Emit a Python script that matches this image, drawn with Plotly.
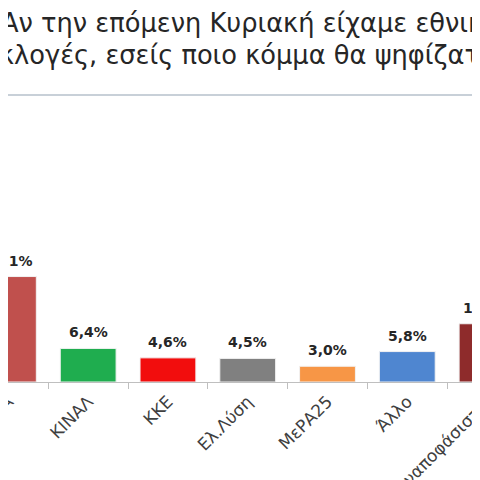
import plotly.graph_objects as go

# poll results (cropped view of the original chart)
parties = ["ΣΥΡΙΖΑ", "ΚΙΝΑΛ", "ΚΚΕ", "Ελ.Λύση", "ΜεΡΑ25", "Άλλο", "Αναποφάσιστοι"]
shares = [20.1, 6.4, 4.6, 4.5, 3.0, 5.8, 11.1]
colors = ["#c0504d", "#1fad4f", "#f20d0d", "#808080", "#f79646", "#4f86d0", "#8e2b2b"]

title_lines = ["Αν την επόμενη Κυριακή είχαμε εθνικές",
               "εκλογές, εσείς ποιο κόμμα θα ψηφίζατε;"]

FONT = "DejaVu Sans"

fig = go.Figure()
fig.add_trace(go.Bar(
    x=parties,
    y=shares,
    marker=dict(color=colors, line=dict(color="#f2f2f2", width=1)),
    width=0.7,
    cliponaxis=False,
    hoverinfo="skip",
))

# value labels above each bar
for p, v in zip(parties, shares):
    fig.add_annotation(
        x=p, y=v, text=f"{v:.1f}%".replace(".", ","),
        showarrow=False, yanchor="bottom", yshift=6,
        font=dict(family=FONT, size=14, color="#262626", weight="bold"),
    )

# two-line title, cut at the edges like the reference crop
fig.add_annotation(
    xref="paper", yref="paper", x=0, y=1, xanchor="left", yanchor="bottom",
    xshift=-9, yshift=55, text=title_lines[0], showarrow=False,
    font=dict(family=FONT, size=25.7, color="#262626"),
)
fig.add_annotation(
    xref="paper", yref="paper", x=0, y=1, xanchor="left", yanchor="bottom",
    xshift=-25, yshift=23, text=title_lines[1], showarrow=False,
    font=dict(family=FONT, size=25.7, color="#262626"),
)

# separator line under the title
fig.add_shape(type="line", xref="paper", yref="paper", x0=-0.02, x1=1, y0=1, y1=1,
              line=dict(color="#c8d0d8", width=2))

fig.update_layout(
    width=480, height=480,
    margin=dict(l=0, r=0, t=87, b=106, autoexpand=False),
    paper_bgcolor="white", plot_bgcolor="white",
    showlegend=False,
    xaxis=dict(
        range=[-0.005, 6.012],
        automargin=False,
        tickangle=-45,
        tickfont=dict(family=FONT, size=17, color="#404040"),
        ticklabelstandoff=2,
        showline=True, linecolor="#bfbfbf", linewidth=1,
        ticks="outside", tickson="boundaries", ticklen=6, tickcolor="#bfbfbf",
    ),
    yaxis=dict(range=[0, 54.7], visible=False, showgrid=False),
)

fig.write_html("out.html")
